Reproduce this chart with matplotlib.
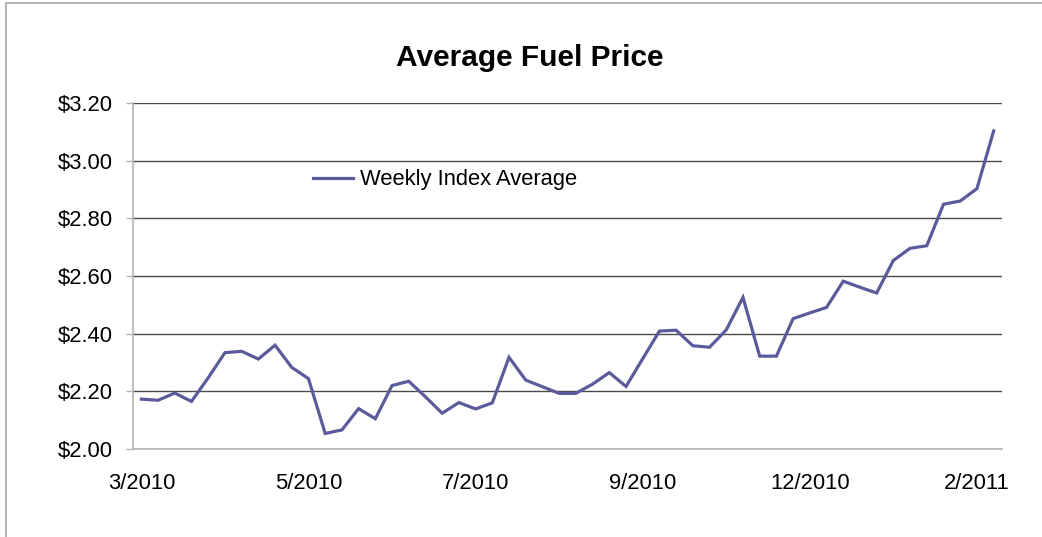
import matplotlib
matplotlib.use("Agg")
import matplotlib.pyplot as plt
from matplotlib.patches import Rectangle
from matplotlib.ticker import FuncFormatter

# ---- data ----
title = "Average Fuel Price"
series_name = "Weekly Index Average"
prices = [2.173, 2.169, 2.194, 2.165, 2.247, 2.334, 2.339, 2.312, 2.360, 2.283,
          2.244, 2.054, 2.066, 2.140, 2.105, 2.220, 2.235, 2.181, 2.124, 2.161,
          2.139, 2.160, 2.318, 2.239, 2.216, 2.193, 2.193, 2.225, 2.265, 2.217,
          2.313, 2.409, 2.412, 2.358, 2.353, 2.413, 2.526, 2.322, 2.322, 2.452,
          2.472, 2.491, 2.582, 2.561, 2.541, 2.654, 2.696, 2.705, 2.849, 2.860,
          2.903, 3.103]
tick_labels = ["3/2010", "5/2010", "7/2010", "9/2010", "12/2010", "2/2011"]
label_every = 10
y_ticks = [2.00, 2.20, 2.40, 2.60, 2.80, 3.00, 3.20]

W, H = 1042, 537
fig = plt.figure(figsize=(W / 100, H / 100), dpi=100)
plt.rcParams['font.family'] = ['Liberation Sans', 'DejaVu Sans']

ax = fig.add_axes([133 / W, 1 - 449 / H, (1002 - 133) / W, (449 - 103) / H])

x = list(range(len(prices)))
line, = ax.plot(x, prices, color='#5b5b9c', lw=2.3, solid_joinstyle='miter',
                label=series_name)

ax.set_xlim(-0.5, len(prices) - 0.5)
ax.set_ylim(y_ticks[0], y_ticks[-1])
ax.set_yticks(y_ticks)
ax.yaxis.set_major_formatter(FuncFormatter(lambda v, p: f"${v:.2f}"))
ax.set_xticks([i * label_every for i in range(len(tick_labels))])
ax.set_xticklabels(tick_labels)

ax.grid(axis='y', color='#4a4a4a', lw=1.0)
ax.set_axisbelow(True)
for s in ['top', 'right']:
    ax.spines[s].set_visible(False)
for s in ['left', 'bottom']:
    ax.spines[s].set_color('#b4b4b4')
    ax.spines[s].set_linewidth(1.2)

ax.tick_params(axis='y', length=5, width=1, color='#b4b4b4', pad=9.5,
               labelsize=15.8, labelcolor='black')
ax.tick_params(axis='x', length=0, pad=17, labelsize=15.8, labelcolor='black')

ax.legend(handles=[line], loc='center left',
          bbox_to_anchor=((313 - 133) / 869, (449 - 180) / 346),
          frameon=False, fontsize=15.8, handlelength=1.8, handletextpad=0.32,
          borderpad=0, borderaxespad=0)

fig.text(530 / W, 1 - 66.5 / H, title, ha='center', va='baseline',
         fontsize=21.5, fontweight='bold')

fig.add_artist(Rectangle((6 / W, -0.05), 1.1, 1 - 3 / H + 0.05,
                         transform=fig.transFigure, fill=False,
                         edgecolor='#a6a6a6', lw=1.2))

fig.savefig("out.png", dpi=100)
